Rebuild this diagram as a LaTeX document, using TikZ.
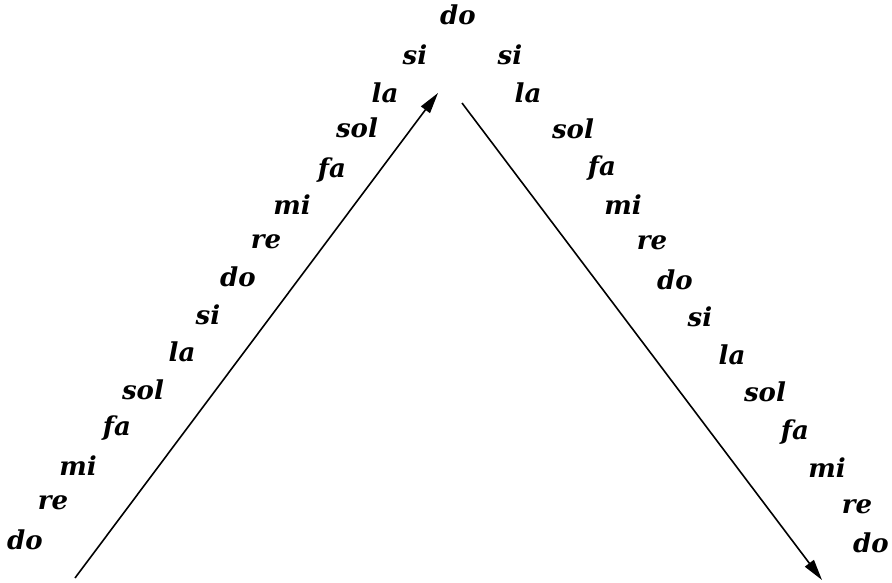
\documentclass[tikz,border=0pt]{standalone}
\usepackage{fontspec}
\setmainfont{DejaVu Serif}
\usetikzlibrary{arrows.meta}
\begin{document}
\begin{tikzpicture}[x=1pt,y=-1pt,
  note/.style={font=\fontsize{26}{30}\selectfont\bfseries\itshape, inner sep=0pt, anchor=center},
  arr/.style={line width=1.6pt, -{Triangle[length=21pt,width=11pt]}}]
\useasboundingbox (0,0) rectangle (892,583);
% left column (ascending)
\node[note] (l1) at (25,540) {do};
\node[note] (l2) at (53,503) {re};
\node[note] (l3) at (78,466) {mi};
\node[note] (l4) at (117,428) {fa};
\node[note] (l5) at (143,390) {sol};
\node[note] (l6) at (182,352) {la};
\node[note] (l7) at (208,315) {si};
\node[note] (l8) at (238,277) {do};
\node[note] (l9) at (266,242) {re};
\node[note] (l10) at (292,205) {mi};
\node[note] (l11) at (332,170) {fa};
\node[note] (l12) at (357,128) {sol};
\node[note] (l13) at (385,93) {la};
\node[note] (l14) at (415,55) {si};
\node[note] (top) at (458,15) {do};
% right column (descending)
\node[note] (r1) at (510,55) {si};
\node[note] (r2) at (528,93) {la};
\node[note] (r3) at (573,129) {sol};
\node[note] (r4) at (602,168) {fa};
\node[note] (r5) at (623,205) {mi};
\node[note] (r6) at (652,243) {re};
\node[note] (r7) at (675,280) {do};
\node[note] (r8) at (700,317) {si};
\node[note] (r9) at (732,355) {la};
\node[note] (r10) at (765,392) {sol};
\node[note] (r11) at (795,432) {fa};
\node[note] (r12) at (827,468) {mi};
\node[note] (r13) at (857,507) {re};
\node[note] (r14) at (871,543) {do};
% arrows
\coordinate (a0) at (75,578);
\coordinate (a1) at (438,93);
\coordinate (b0) at (462,103);
\coordinate (b1) at (822,580);
\draw[arr] (a0) -- (a1);
\draw[arr] (b0) -- (b1);
\end{tikzpicture}
\end{document}
